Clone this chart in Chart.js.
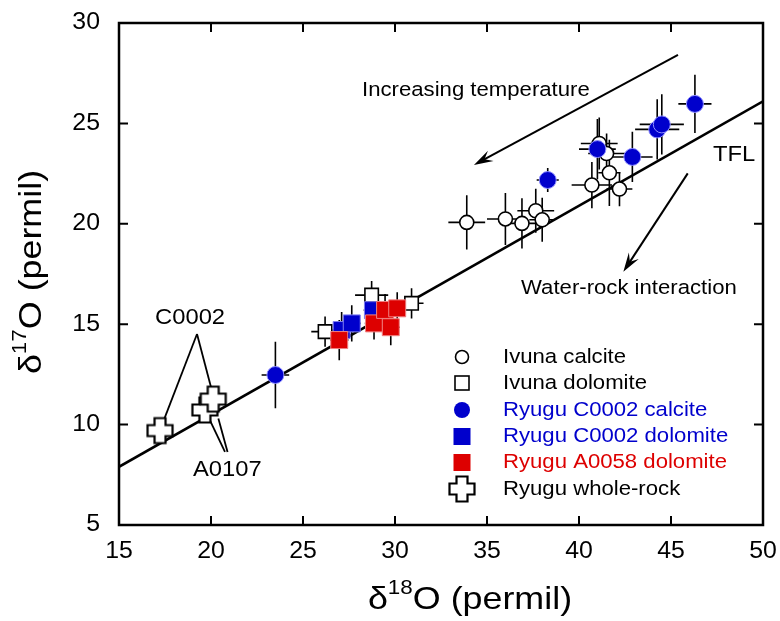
<!DOCTYPE html>
<html><head><meta charset="utf-8">
<script src="https://cdn.jsdelivr.net/npm/chart.js@4.4.0/dist/chart.umd.min.js"></script>
<style>html,body{margin:0;padding:0;background:#fff;overflow:hidden}#wrap{width:780px;height:621px}</style>
</head><body><div id="wrap"><canvas id="c" width="780" height="621"></canvas></div>
<script>
// ---- axis ranges and tick labels ----
const xTicks = [15, 20, 25, 30, 35, 40, 45, 50];
const yTicks = [5, 10, 15, 20, 25, 30];

// ---- Ivuna calcite (open circles) ----
const ivunaCalciteX    = [33.9, 36.0, 36.9, 37.65, 38.0, 40.7, 41.65, 42.2, 41.5, 41.1];
const ivunaCalciteY    = [20.07, 20.24, 20.02, 20.65, 20.2, 21.93, 22.54, 21.73, 23.5, 24.0];
const ivunaCalciteXErr = [1.0, 1.0, 0.8, 1.0, 0.7, 1.1, 0.6, 0.7, 1.0, 1.0];
const ivunaCalciteYErr = [1.35, 1.3, 1.25, 1.1, 1.1, 1.15, 1.65, 0.85, 1.0, 1.3];

// ---- Ivuna dolomite (open squares) ----
const ivunaDolomiteX    = [28.73, 26.2, 30.9];
const ivunaDolomiteY    = [16.45, 14.63, 16.04];
const ivunaDolomiteXErr = [0.9, 0.75, 0.65];
const ivunaDolomiteYErr = [0.7, 0.75, 0.75];

// ---- Ryugu C0002 calcite (blue circles) ----
const c0002CalciteX    = [23.5, 38.3, 41.0, 42.9, 44.25, 44.5, 46.3];
const c0002CalciteY    = [12.47, 22.18, 23.72, 23.33, 24.7, 24.95, 25.97];
const c0002CalciteXErr = [0.75, 0.6, 1.0, 1.1, 1.2, 1.2, 0.9];
const c0002CalciteYErr = [1.65, 0.6, 1.5, 1.25, 1.5, 1.5, 1.45];

// ---- Ryugu C0002 dolomite (blue squares) ----
const c0002DolomiteX    = [27.1, 27.65, 28.8];
const c0002DolomiteY    = [14.71, 15.04, 15.7];
const c0002DolomiteXErr = [0.5, 0.5, 0.5];
const c0002DolomiteYErr = [0.9, 0.9, 0.9];

// ---- Ryugu A0058 dolomite (red squares) ----
const a0058DolomiteX    = [26.97, 28.86, 29.77, 29.46, 30.12];
const a0058DolomiteY    = [14.21, 15.04, 14.85, 15.71, 15.79];
const a0058DolomiteXErr = [0.5, 0.5, 0.5, 0.5, 0.5];
const a0058DolomiteYErr = [1.0, 0.8, 0.9, 0.8, 0.8];

// ---- Ryugu whole-rock (open crosses) ----
const wholeRockX = [17.23, 19.67, 20.12];
const wholeRockY = [9.70, 10.73, 11.27];

// ---- Terrestrial fractionation line end points ----
const tflX = [15, 50];
const tflY = [7.9, 26.1];

// ---- annotation geometry in data units ----
const notes = {
  tempArrow:  {from: [45.38, 28.41], to: [34.29, 22.93]},
  waterArrow: {from: [45.91, 22.51], to: [42.41, 17.61]},
  c0002Lines: [[[19.24, 14.51], [17.32, 9.95]], [[19.24, 14.51], [20.04, 11.72]]],
  a0107Lines: [[[20.76, 8.64], [19.95, 10.2]], [[20.9, 8.64], [20.4, 10.3]]],
  texts: [
    {t: 'Increasing temperature', x: 28.21, y: 26.66, size: 20.5},
    {t: 'Water-rock interaction', x: 36.85, y: 16.8, size: 20.5},
    {t: 'TFL', x: 47.28, y: 23.43, size: 22},
    {t: 'C0002', x: 16.96, y: 15.31, size: 22},
    {t: 'A0107', x: 19.02, y: 7.74, size: 22}
  ]
};

const legendItems = [
  {label: 'Ivuna calcite', color: '#000', sym: 'ocircle'},
  {label: 'Ivuna dolomite', color: '#000', sym: 'osquare'},
  {label: 'Ryugu C0002 calcite', color: '#0000cc', sym: 'bcircle'},
  {label: 'Ryugu C0002 dolomite', color: '#0000cc', sym: 'bsquare'},
  {label: 'Ryugu A0058 dolomite', color: '#dd0000', sym: 'rsquare'},
  {label: 'Ryugu whole-rock', color: '#000', sym: 'cross'}
];

const FONT = "'Liberation Sans', Arial, sans-serif";
const SX = 1.08; // horizontal stretch of the original lettering
const BLUE = '#0000cc', RED = '#dd0000';

function pts(xs, ys) { return xs.map((x, i) => ({x: x, y: ys[i]})); }

function crossPath(ctx, cx, cy, a, L) {
  ctx.beginPath();
  ctx.moveTo(cx - a, cy - L); ctx.lineTo(cx + a, cy - L); ctx.lineTo(cx + a, cy - a);
  ctx.lineTo(cx + L, cy - a); ctx.lineTo(cx + L, cy + a); ctx.lineTo(cx + a, cy + a);
  ctx.lineTo(cx + a, cy + L); ctx.lineTo(cx - a, cy + L); ctx.lineTo(cx - a, cy + a);
  ctx.lineTo(cx - L, cy + a); ctx.lineTo(cx - L, cy - a); ctx.lineTo(cx - a, cy - a);
  ctx.closePath();
}
const crossImg = document.createElement('canvas');
crossImg.width = 30; crossImg.height = 30;
(function () {
  const g = crossImg.getContext('2d');
  crossPath(g, 15, 15, 5.5, 12.5);
  g.fillStyle = '#fff'; g.fill();
  g.lineWidth = 2.2; g.strokeStyle = '#000'; g.lineJoin = 'miter'; g.stroke();
})();

function text(ctx, t, x, y, size, color, align, base) {
  ctx.save();
  ctx.translate(x, y); ctx.scale(SX, 1);
  ctx.font = size + 'px ' + FONT;
  ctx.fillStyle = color || '#000';
  ctx.textAlign = align || 'left';
  ctx.textBaseline = base || 'middle';
  ctx.fillText(t, 0, 0);
  ctx.restore();
}
function richTitle(ctx, sup, cx, cy, rot) {
  const big = 32, small = 20;
  const parts = [{t: '\u03B4', s: big, dy: 0}, {t: sup, s: small, dy: -12}, {t: 'O (permil)', s: big, dy: 0}];
  ctx.save();
  ctx.translate(cx, cy); if (rot) ctx.rotate(-Math.PI / 2);
  ctx.scale(1.12, 1);
  let w = 0;
  parts.forEach(p => { ctx.font = p.s + 'px ' + FONT; p.w = ctx.measureText(p.t).width; w += p.w; });
  let x = -w / 2;
  ctx.fillStyle = '#000'; ctx.textBaseline = 'middle'; ctx.textAlign = 'left';
  parts.forEach(p => { ctx.font = p.s + 'px ' + FONT; ctx.fillText(p.t, x, p.dy); x += p.w; });
  ctx.restore();
}
function arrow(ctx, x1, y1, x2, y2) {
  ctx.save();
  ctx.strokeStyle = '#000'; ctx.fillStyle = '#000'; ctx.lineWidth = 2;
  const ang = Math.atan2(y2 - y1, x2 - x1), len = 20, half = 0.3;
  ctx.beginPath(); ctx.moveTo(x1, y1);
  ctx.lineTo(x2 - Math.cos(ang) * 8, y2 - Math.sin(ang) * 8); ctx.stroke();
  ctx.beginPath();
  ctx.moveTo(x2, y2);
  ctx.lineTo(x2 - len * Math.cos(ang - half), y2 - len * Math.sin(ang - half));
  ctx.lineTo(x2 - len * 0.6 * Math.cos(ang), y2 - len * 0.6 * Math.sin(ang));
  ctx.lineTo(x2 - len * Math.cos(ang + half), y2 - len * Math.sin(ang + half));
  ctx.closePath(); ctx.fill();
  ctx.restore();
}

const errorSets = [
  [ivunaCalciteX, ivunaCalciteY, ivunaCalciteXErr, ivunaCalciteYErr],
  [ivunaDolomiteX, ivunaDolomiteY, ivunaDolomiteXErr, ivunaDolomiteYErr],
  [c0002CalciteX, c0002CalciteY, c0002CalciteXErr, c0002CalciteYErr],
  [c0002DolomiteX, c0002DolomiteY, c0002DolomiteXErr, c0002DolomiteYErr],
  [a0058DolomiteX, a0058DolomiteY, a0058DolomiteXErr, a0058DolomiteYErr]
];

const decor = {
  id: 'decor',
  beforeDatasetsDraw(chart) {
    const {ctx, scales: {x: sx, y: sy}} = chart;
    ctx.save();
    ctx.strokeStyle = '#000'; ctx.lineWidth = 1.6;
    errorSets.forEach(([xs, ys, xe, ye]) => {
      xs.forEach((xv, i) => {
        const px = sx.getPixelForValue(xv), py = sy.getPixelForValue(ys[i]);
        ctx.beginPath();
        ctx.moveTo(sx.getPixelForValue(xv - xe[i]), py); ctx.lineTo(sx.getPixelForValue(xv + xe[i]), py);
        ctx.moveTo(px, sy.getPixelForValue(ys[i] - ye[i])); ctx.lineTo(px, sy.getPixelForValue(ys[i] + ye[i]));
        ctx.stroke();
      });
    });
    ctx.restore();
  },
  afterDatasetsDraw(chart) {
    const {ctx, chartArea: a, scales: {x: sx, y: sy}} = chart;
    const P = (d) => [sx.getPixelForValue(d[0]), sy.getPixelForValue(d[1])];
    ctx.save();
    // frame
    ctx.strokeStyle = '#000'; ctx.lineWidth = 2.5;
    ctx.strokeRect(a.left, a.top, a.right - a.left, a.bottom - a.top);
    // inward ticks
    ctx.lineWidth = 2;
    ctx.beginPath();
    xTicks.forEach(v => {
      const px = sx.getPixelForValue(v);
      ctx.moveTo(px, a.bottom); ctx.lineTo(px, a.bottom - 9);
      ctx.moveTo(px, a.top); ctx.lineTo(px, a.top + 9);
    });
    yTicks.forEach(v => {
      const py = sy.getPixelForValue(v);
      ctx.moveTo(a.left, py); ctx.lineTo(a.left + 9, py);
      ctx.moveTo(a.right, py); ctx.lineTo(a.right - 9, py);
    });
    ctx.stroke();
    // tick labels
    xTicks.forEach(v => text(ctx, String(v), sx.getPixelForValue(v), a.bottom + 27, 23, '#000', 'center'));
    yTicks.forEach(v => text(ctx, String(v), a.left - 19, sy.getPixelForValue(v), 23, '#000', 'right'));
    // axis titles
    richTitle(ctx, '18', 470, 600, false);
    richTitle(ctx, '17', 32, 272, true);
    // arrows
    [notes.tempArrow, notes.waterArrow].forEach(ar => {
      const f = P(ar.from), t = P(ar.to);
      arrow(ctx, f[0], f[1], t[0], t[1]);
    });
    // annotation texts
    notes.texts.forEach(n => text(ctx, n.t, sx.getPixelForValue(n.x), sy.getPixelForValue(n.y), n.size, '#000', 'left'));
    // legend
    const lx = 462, tx = 503, rows = [357, 383, 410, 436.5, 462.5, 489];
    legendItems.forEach((it, i) => {
      const y = rows[i];
      ctx.lineWidth = 1.6; ctx.strokeStyle = '#000';
      if (it.sym === 'ocircle') { ctx.beginPath(); ctx.arc(lx, y, 6.5, 0, 2 * Math.PI); ctx.fillStyle = '#fff'; ctx.fill(); ctx.stroke(); }
      if (it.sym === 'osquare') { ctx.fillStyle = '#fff'; ctx.fillRect(lx - 7, y - 7, 14, 14); ctx.strokeRect(lx - 7, y - 7, 14, 14); }
      if (it.sym === 'bcircle') { ctx.beginPath(); ctx.arc(lx, y, 8, 0, 2 * Math.PI); ctx.fillStyle = BLUE; ctx.fill(); }
      if (it.sym === 'bsquare') { ctx.fillStyle = BLUE; ctx.fillRect(lx - 8.5, y - 8.5, 17, 17); }
      if (it.sym === 'rsquare') { ctx.fillStyle = RED; ctx.fillRect(lx - 8.5, y - 8.5, 17, 17); }
      if (it.sym === 'cross') { ctx.drawImage(crossImg, lx - 15, y - 15); }
      text(ctx, it.label, tx, y, 20.5, it.color, 'left');
    });
    ctx.restore();
  }
};

const lineDs = (segs) => segs.map(s => ({
  type: 'line', data: s.map(p => ({x: p[0], y: p[1]})), borderColor: '#000', borderWidth: 1.8,
  pointRadius: 0, showLine: true, fill: false
}));

new Chart(document.getElementById('c'), {
  type: 'scatter',
  data: {
    datasets: [
      {label: 'Ryugu whole-rock', data: pts(wholeRockX, wholeRockY), pointStyle: crossImg, pointRadius: 13},
      {label: 'Ryugu A0058 dolomite', data: pts(a0058DolomiteX, a0058DolomiteY), pointStyle: 'rect', pointRadius: 12,
        backgroundColor: RED, borderColor: '#f08080', borderWidth: 1},
      {label: 'Ryugu C0002 dolomite', data: pts(c0002DolomiteX, c0002DolomiteY), pointStyle: 'rect', pointRadius: 12,
        backgroundColor: BLUE, borderColor: '#8080f0', borderWidth: 1},
      {label: 'Ryugu C0002 calcite', data: pts(c0002CalciteX, c0002CalciteY), pointStyle: 'circle', pointRadius: 8.5,
        backgroundColor: BLUE, borderColor: '#9090ff', borderWidth: 1},
      {label: 'Ivuna dolomite', data: pts(ivunaDolomiteX, ivunaDolomiteY), pointStyle: 'rect', pointRadius: 9.5,
        backgroundColor: '#fff', borderColor: '#000', borderWidth: 1.6},
      {label: 'Ivuna calcite', data: pts(ivunaCalciteX, ivunaCalciteY), pointStyle: 'circle', pointRadius: 7,
        backgroundColor: '#fff', borderColor: '#000', borderWidth: 1.6},
      ...lineDs(notes.c0002Lines),
      ...lineDs(notes.a0107Lines),
      {type: 'line', label: 'TFL', data: pts(tflX, tflY), borderColor: '#000', borderWidth: 2.6,
        pointRadius: 0, showLine: true, fill: false}
    ]
  },
  options: {
    responsive: false, animation: false, devicePixelRatio: 1,
    layout: {padding: {left: 0, top: 23, right: 17, bottom: 0}},
    plugins: {legend: {display: false}, tooltip: {enabled: false}},
    elements: {point: {hoverRadius: 0}},
    scales: {
      x: {type: 'linear', min: 15, max: 50, ticks: {display: false, stepSize: 5}, grid: {display: false},
        border: {display: false}, afterFit(s) { s.height = 96; }},
      y: {type: 'linear', min: 5, max: 30, ticks: {display: false, stepSize: 5}, grid: {display: false},
        border: {display: false}, afterFit(s) { s.width = 119; }}
    }
  },
  plugins: [decor]
});
</script>
</body></html>
